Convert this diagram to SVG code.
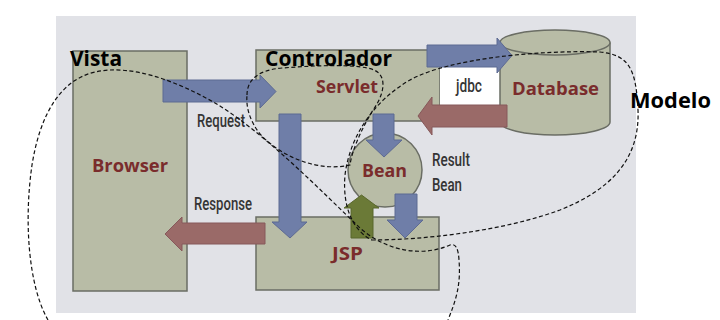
<svg xmlns="http://www.w3.org/2000/svg" width="720" height="320" viewBox="0 0 720 320">
  <style>
    .box { fill: #b8bca6; stroke: #6a6d64; stroke-width: 1.5; }
    .name { font-family: "Open Sans", "Liberation Sans", sans-serif; font-weight: 700; fill: #7a2c2c; }
    .tag { font-family: "Roboto", "Liberation Sans", sans-serif; font-weight: 500; fill: #353535; font-size: 19px; }
    .layer { font-family: "Open Sans", "Liberation Sans", sans-serif; font-weight: 700; fill: #000; font-size: 21px; }
    .blue { fill: #6f7ea8; stroke: #5d6a92; stroke-width: 1; }
    .red { fill: #9a6a68; stroke: #86585a; stroke-width: 1; }
    .green { fill: #6b7a37; stroke: #59672c; stroke-width: 1; }
    .loop { fill: none; stroke: #111; stroke-width: 1.2; stroke-dasharray: 4 2.5; }
  </style>

  <!-- backdrop panel -->
  <rect x="56" y="16" width="580" height="297" fill="#e1e2e7"/>

  <g id="browser">
    <rect class="box" x="73" y="51" width="114" height="240"/>
    <text class="name" x="92" y="172" font-size="18" textLength="76" lengthAdjust="spacingAndGlyphs">Browser</text>
  </g>

  <g id="servlet">
    <rect class="box" x="256" y="50" width="184" height="71"/>
    <text class="name" x="316" y="93" font-size="18" textLength="62" lengthAdjust="spacingAndGlyphs">Servlet</text>
  </g>

  <g id="jdbc">
    <rect x="440" y="58" width="60" height="54" fill="#ffffff"/>
    <text class="tag" x="456" y="92" textLength="26" lengthAdjust="spacingAndGlyphs">jdbc</text>
  </g>

  <g id="database">
    <path class="box" d="M500,42.5 V122 A55,13 0 0 0 610,122 V42.5"/>
    <ellipse class="box" cx="555" cy="42.5" rx="55" ry="12.5"/>
    <text class="name" x="512" y="95" font-size="18" textLength="87" lengthAdjust="spacingAndGlyphs">Database</text>
  </g>

  <g id="jsp">
    <rect class="box" x="256" y="217" width="183" height="73"/>
    <text class="name" x="332" y="260" font-size="18" textLength="31" lengthAdjust="spacingAndGlyphs">JSP</text>
  </g>

  <g id="bean">
    <circle class="box" cx="385" cy="170" r="37"/>
    <text class="name" x="362" y="177" font-size="18" textLength="45" lengthAdjust="spacingAndGlyphs">Bean</text>
  </g>

  <g id="connectors">
    <!-- Browser -> Servlet (request) -->
    <path class="blue" d="M163,80 H260 V75 L276,91.5 L260,108 V102 H163 Z"/>
    <!-- Servlet -> Database (jdbc) -->
    <path class="blue" d="M427,45 H497 V38 L512,55.5 L497,73 V67 H427 Z"/>
    <!-- Database -> Servlet -->
    <path class="red" d="M507,105 H432 V97 L418,116 L432,135 V127 H507 Z"/>
    <!-- JSP -> Browser (response) -->
    <path class="red" d="M265,223 H182 V217 L165,234 L182,251 V244 H265 Z"/>
    <!-- Servlet -> JSP -->
    <path class="blue" d="M279,114 H301 V222 H307 L290,238 L272,222 H279 Z"/>
    <!-- Servlet -> Bean -->
    <path class="blue" d="M373,114 H394 V140 H402 L384,157 L366,140 H373 Z"/>
    <!-- Bean -> JSP (result bean) -->
    <path class="blue" d="M395,194 H417 V220 H423 L405,238 L387,220 H395 Z"/>
    <!-- JSP -> Bean -->
    <path class="green" d="M351,238 H373 V208 H379 L361.5,195 L344,208 H351 Z"/>

    <text class="tag" x="197" y="127" textLength="48" lengthAdjust="spacingAndGlyphs">Request</text>
    <text class="tag" x="194" y="210" textLength="58" lengthAdjust="spacingAndGlyphs">Response</text>
    <text class="tag" x="432" y="166" textLength="38" lengthAdjust="spacingAndGlyphs">Result</text>
    <text class="tag" x="432" y="191" textLength="30" lengthAdjust="spacingAndGlyphs">Bean</text>
  </g>

  <g id="vista">
    <path class="loop" d="M48,320 C28,285 24,220 32,165 C40,115 60,80 95,72 C130,64 175,80 215,103 C265,133 320,190 360,228 C385,250 420,258 450,245 Q458,242 459,260 C461,285 456,300 448,320"/>
    <text class="layer" x="70" y="66" textLength="52" lengthAdjust="spacingAndGlyphs">Vista</text>
  </g>

  <g id="controlador">
    <path class="loop" d="M247,95 C247,80 258,70 282,68 C320,65 360,64 374,70 C388,76 384,95 373,110 C362,128 352,150 350,165 C320,172 282,158 260,134 C249,120 246,106 247,95 Z"/>
    <text class="layer" x="265" y="66" textLength="127" lengthAdjust="spacingAndGlyphs">Controlador</text>
  </g>

  <g id="modelo">
    <path class="loop" d="M372,240 C420,240 500,232 560,210 C610,190 640,160 638,110 C636,70 630,55 600,52 C540,50 450,58 410,80 C375,100 350,135 345,175 C342,210 355,232 372,240 Z"/>
    <text class="layer" x="630" y="108" textLength="81" lengthAdjust="spacingAndGlyphs">Modelo</text>
  </g>
</svg>
